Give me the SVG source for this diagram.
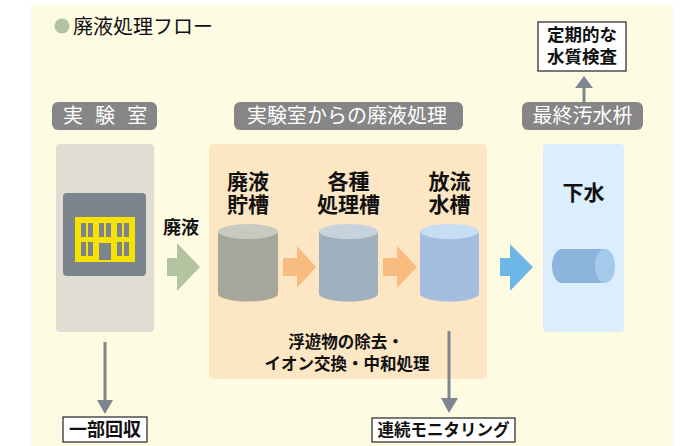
<svg xmlns="http://www.w3.org/2000/svg" width="690" height="446" viewBox="0 0 690 446">
  <defs>
    <style>
      .jp { font-family: "Noto Sans CJK JP", "Noto Sans CJK SC", sans-serif; }
      .pill { fill: #868686; }
      .pill-text { fill: #ffffff; font-size: 20px; text-anchor: middle; }
      .node-label { fill: #111111; font-size: 21px; font-weight: bold; text-anchor: middle; }
      .box { fill: #ffffff; stroke: #222222; stroke-width: 1.2; }
      .box-text { fill: #111111; font-weight: bold; text-anchor: middle; }
      .gray-arrow { fill: #7D8690; }
      .window { fill: #7C858E; }
    </style>
  </defs>

  <!-- background panel -->
  <rect x="31" y="5" width="642" height="441" fill="#FEFBE3"/>

  <!-- heading -->
  <g id="title">
    <circle cx="62" cy="26" r="7.5" fill="#B4C39F"/>
    <text x="73" y="34" class="jp" font-size="20" fill="#111111">廃液処理フロー</text>
  </g>

  <!-- section headers -->
  <g id="header-lab">
    <rect class="pill" x="52" y="102" width="105" height="28" rx="6"/>
    <text class="jp pill-text" x="63" y="123" style="text-anchor:start" letter-spacing="3.8">実 験 室</text>
  </g>
  <g id="header-process">
    <rect class="pill" x="234" y="102" width="229" height="28" rx="6"/>
    <text class="jp pill-text" x="347" y="123">実験室からの廃液処理</text>
  </g>
  <g id="header-sewer">
    <rect class="pill" x="522" y="102" width="121" height="28" rx="6"/>
    <text class="jp pill-text" x="582.5" y="123">最終汚水枡</text>
  </g>

  <!-- laboratory column -->
  <g id="lab">
    <rect x="56" y="144" width="98" height="188" rx="4" fill="#E0DDD2"/>
    <rect x="63" y="193" width="83" height="83" rx="4" fill="#7C858E"/>
    <rect x="75" y="217" width="60" height="45" fill="#F6E400"/>
    <rect class="window" x="81" y="223" width="5" height="14"/>
    <rect class="window" x="88" y="223" width="5" height="14"/>
    <rect class="window" x="99" y="223" width="5" height="14"/>
    <rect class="window" x="106" y="223" width="5" height="14"/>
    <rect class="window" x="117" y="223" width="5" height="14"/>
    <rect class="window" x="124" y="223" width="5" height="14"/>
    <rect class="window" x="81" y="242" width="5" height="14"/>
    <rect class="window" x="88" y="242" width="5" height="14"/>
    <rect class="window" x="117" y="242" width="5" height="14"/>
    <rect class="window" x="124" y="242" width="5" height="14"/>
    <rect class="window" x="99" y="243" width="12" height="17"/>
  </g>

  <!-- treatment panel -->
  <g id="process">
    <rect x="209" y="144" width="278" height="235" rx="5" fill="#FDE6C4"/>
    <text class="jp" x="346" y="348" font-size="16.5" font-weight="bold" fill="#111111" text-anchor="middle">浮遊物の除去・</text>
    <text class="jp" x="347" y="370" font-size="16.5" font-weight="bold" fill="#111111" text-anchor="middle">イオン交換・中和処理</text>
  </g>

  <g id="tank-storage">
    <text class="jp node-label" x="248" y="189">廃液</text>
    <text class="jp node-label" x="248" y="212">貯槽</text>
    <path d="M218 231.5 V294 A30 7.5 0 0 0 278 294 V231.5 Z" fill="#A6A69C"/>
    <ellipse cx="248" cy="231.5" rx="30" ry="7.5" fill="#C9CABF"/>
  </g>

  <g id="tank-treatment">
    <text class="jp node-label" x="348.5" y="189">各種</text>
    <text class="jp node-label" x="348.5" y="212">処理槽</text>
    <path d="M319 231.5 V294 A29.5 7.5 0 0 0 378 294 V231.5 Z" fill="#9FB1BE"/>
    <ellipse cx="348.5" cy="231.5" rx="29.5" ry="7.5" fill="#C6D3DC"/>
  </g>

  <g id="tank-discharge">
    <text class="jp node-label" x="449.5" y="189">放流</text>
    <text class="jp node-label" x="449.5" y="212">水槽</text>
    <path d="M420 231.5 V294 A29.5 7.5 0 0 0 479 294 V231.5 Z" fill="#A3BDE1"/>
    <ellipse cx="449.5" cy="231.5" rx="29.5" ry="7.5" fill="#C6DDF4"/>
  </g>

  <!-- sewer column -->
  <g id="sewer">
    <rect x="543" y="144" width="81" height="188" rx="4" fill="#DAEEFB"/>
    <text class="jp node-label" x="583.5" y="200">下水</text>
    <path d="M562 249 H605 V283 H562 A10 17 0 0 1 562 249 Z" fill="#8CB4DC"/>
    <ellipse cx="605" cy="266" rx="10" ry="17" fill="#A5C9EA"/>
  </g>

  <!-- output boxes -->
  <g id="inspection">
    <rect class="box" x="538" y="22" width="88" height="49"/>
    <text class="jp box-text" x="582" y="41" font-size="17.5">定期的な</text>
    <text class="jp box-text" x="582" y="63" font-size="17.5">水質検査</text>
  </g>
  <g id="recovery">
    <rect class="box" x="63" y="417" width="84" height="25"/>
    <text class="jp box-text" x="105" y="436" font-size="18">一部回収</text>
  </g>
  <g id="monitoring">
    <rect class="box" x="372" y="418" width="143" height="24"/>
    <text class="jp box-text" x="443.5" y="436" font-size="16.5">連続モニタリング</text>
  </g>

  <!-- connectors -->
  <g id="connectors">
    <text class="jp" x="181" y="234" font-size="18" font-weight="bold" fill="#111111" text-anchor="middle">廃液</text>
    <path d="M167 258 H177 V243 L200 267 L177 291 V276 H167 Z" fill="#B4C4A0"/>
    <path d="M283 258 H297 V246 L316 267 L297 288 V276 H283 Z" fill="#F8BC80"/>
    <path d="M383 258 H397 V246 L417 267 L397 288 V276 H383 Z" fill="#F8BC80"/>
    <path d="M500 258 H510 V244 L533 267 L510 291 V276 H500 Z" fill="#6CB7E5"/>
    <!-- up to water quality inspection -->
    <path class="gray-arrow" d="M582.5 102 V88 H575 L584 76 L593 88 H585.5 V102 Z"/>
    <!-- down to partial recovery -->
    <path class="gray-arrow" d="M103.5 342 H106.5 V400 H113 L105 414 L97 400 H103.5 Z"/>
    <!-- down to continuous monitoring -->
    <path class="gray-arrow" d="M447.5 331 H450.5 V398 H458 L449 413 L441 398 H447.5 Z"/>
  </g>
</svg>
